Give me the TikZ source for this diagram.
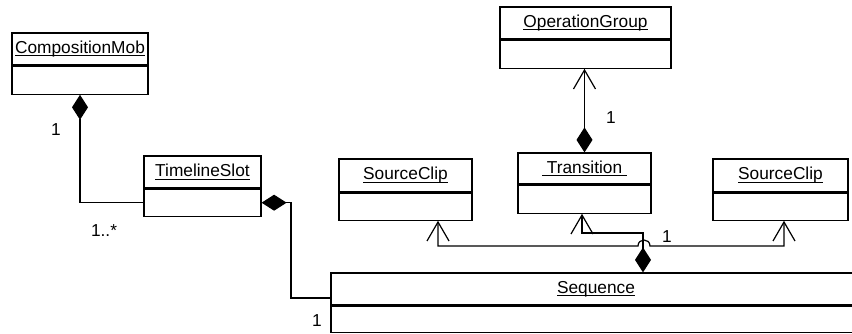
\documentclass[tikz,border=0pt]{standalone}
\usepackage{fontspec}
\setmainfont{Liberation Sans}
\usetikzlibrary{arrows.meta}

% underlined class name with a fixed rule below the baseline
\newsavebox\ulbox
\newcommand\ulname[1]{\sbox\ulbox{#1}\usebox\ulbox\llap{\rule[-3pt]{\wd\ulbox}{1.1pt}}}

\tikzset{
  every node/.style={font=\fontsize{17.3}{20}\selectfont},
  classtitle/.style={draw, line width=1.2pt, inner sep=0pt, rectangle},
  classbody/.style={draw, line width=1.2pt, inner sep=0pt, rectangle, anchor=north},
  conn/.style={draw, line width=1.2pt, line join=miter},
  comp/.tip={Diamond[length=25pt, width=16pt]},
  nav/.tip={Straight Barb[length=19pt, width=22pt, line width=1.2pt]},
  mult/.style={inner sep=0pt}
}

\begin{document}
\begin{tikzpicture}[x=1pt, y=-1pt]
  \useasboundingbox (0,0) rectangle (852,334);
  \fill[white] (0,0) rectangle (852,334);
  \clip (0,0) rectangle (852,334);

  % classes: name compartment + empty attribute compartment
  \node[classtitle, minimum width=136pt, minimum height=32pt] (cm) at (80,49) {\ulname{CompositionMob}};
  \node[classbody, minimum width=136pt, minimum height=28pt] (cmb) at (cm.south) {};

  \node[classtitle, minimum width=117pt, minimum height=32pt] (ts) at (202.5,172) {\ulname{TimelineSlot}};
  \node[classbody, minimum width=117pt, minimum height=27pt] (tsb) at (ts.south) {};

  \node[classtitle, minimum width=133pt, minimum height=33pt] (sc1) at (405.5,175.5) {\ulname{SourceClip}};
  \node[classbody, minimum width=133pt, minimum height=27pt] (sc1b) at (sc1.south) {};

  \node[classtitle, minimum width=133pt, minimum height=31pt] (tr) at (584.5,168.5) {\ulname{\ Transition\ }};
  \node[classbody, minimum width=133pt, minimum height=28pt] (trb) at (tr.south) {};

  \node[classtitle, minimum width=171pt, minimum height=32pt] (og) at (585.5,23) {\ulname{OperationGroup}};
  \node[classbody, minimum width=171pt, minimum height=28pt] (ogb) at (og.south) {};

  \node[classtitle, minimum width=135pt, minimum height=33pt] (sc2) at (780.5,175.5) {\ulname{SourceClip}};
  \node[classbody, minimum width=135pt, minimum height=27pt] (sc2b) at (sc2.south) {};

  \node[classtitle, minimum width=530pt, minimum height=32pt] (seq) at (596,289) {\ulname{Sequence}};
  \node[classbody, minimum width=530pt, minimum height=26.5pt] (seqb) at (seq.south) {};

  % associations
  \draw[conn, comp-] (cmb.south) |- (tsb.west);
  \draw[conn, comp-] (tsb.east) -| (291,298) -- (seq.west |- 0,298);
  \draw[conn, comp-nav] (tr.north) -- (tr.north |- ogb.south);

  \coordinate (tj) at (582,233);
  \draw[conn, comp-nav] (seq.north -| 643,0) |- (tj) -- (tj |- trb.south);

  \coordinate (sj1) at (438,246);
  \coordinate (sj2) at (784,246);
  \draw[conn, nav-nav] (sc1b.south -| sj1) -- (sj1) -- (638,246)
      .. controls (638,238) and (650,238) .. (650,246) -- (sj2) -- (sc2b.south -| sj2);

  % multiplicities
  \node[mult] (m1) at (56,130) {1};
  \node[mult] (m2) at (104,231) {1..*};
  \node[mult] (m3) at (611,118) {1};
  \node[mult] (m4) at (667,237) {1};
  \node[mult] (m5) at (317,321) {1};
\end{tikzpicture}
\end{document}
